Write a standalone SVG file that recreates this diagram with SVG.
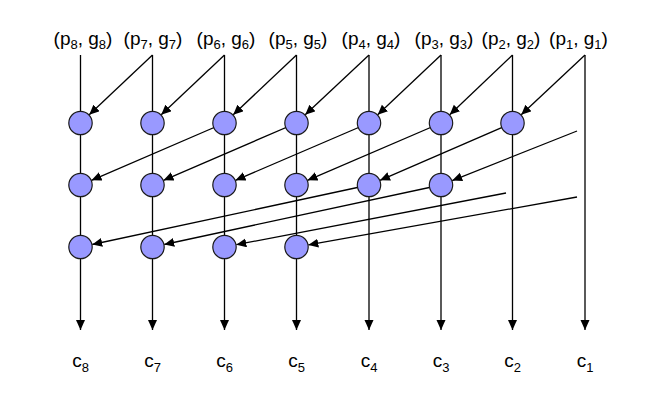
<svg xmlns="http://www.w3.org/2000/svg" width="667" height="408" viewBox="0 0 667 408">
<defs>
<style>
.t{font-family:"Liberation Sans",Arial,sans-serif;font-size:19px;fill:#000;text-anchor:middle}
.s{font-size:13px}
.ln{stroke:#000;stroke-width:1.3;fill:none}
.ar{stroke:#000;stroke-width:1.3;fill:none;marker-end:url(#ah)}
.nd{fill:#9999ff;stroke:#1a1a1a;stroke-width:1.2}
</style>
<marker id="ah" markerUnits="userSpaceOnUse" markerWidth="11" markerHeight="10" refX="10" refY="4.5" orient="auto" viewBox="0 0 11 10">
<path d="M0,0 L10,4.5 L0,9 z" fill="#000"/>
</marker>
</defs>
<rect width="667" height="408" fill="#fff"/>
<g id="labels-top">
<text class="t" x="83" y="45">(p<tspan class="s" dy="4">8</tspan><tspan dy="-4">, g</tspan><tspan class="s" dy="4">8</tspan><tspan dy="-4">)</tspan></text>
<text class="t" x="153" y="45">(p<tspan class="s" dy="4">7</tspan><tspan dy="-4">, g</tspan><tspan class="s" dy="4">7</tspan><tspan dy="-4">)</tspan></text>
<text class="t" x="226" y="45">(p<tspan class="s" dy="4">6</tspan><tspan dy="-4">, g</tspan><tspan class="s" dy="4">6</tspan><tspan dy="-4">)</tspan></text>
<text class="t" x="298" y="45">(p<tspan class="s" dy="4">5</tspan><tspan dy="-4">, g</tspan><tspan class="s" dy="4">5</tspan><tspan dy="-4">)</tspan></text>
<text class="t" x="371" y="45">(p<tspan class="s" dy="4">4</tspan><tspan dy="-4">, g</tspan><tspan class="s" dy="4">4</tspan><tspan dy="-4">)</tspan></text>
<text class="t" x="444" y="45">(p<tspan class="s" dy="4">3</tspan><tspan dy="-4">, g</tspan><tspan class="s" dy="4">3</tspan><tspan dy="-4">)</tspan></text>
<text class="t" x="511" y="45">(p<tspan class="s" dy="4">2</tspan><tspan dy="-4">, g</tspan><tspan class="s" dy="4">2</tspan><tspan dy="-4">)</tspan></text>
<text class="t" x="578.5" y="45">(p<tspan class="s" dy="4">1</tspan><tspan dy="-4">, g</tspan><tspan class="s" dy="4">1</tspan><tspan dy="-4">)</tspan></text>
</g>
<g id="connectors">
<line class="ar" x1="80.5" y1="55" x2="80.5" y2="330"/>
<line class="ar" x1="152.5" y1="55" x2="152.5" y2="330"/>
<line class="ar" x1="224.5" y1="55" x2="224.5" y2="330"/>
<line class="ar" x1="296.5" y1="55" x2="296.5" y2="330"/>
<line class="ar" x1="369" y1="55" x2="369" y2="330"/>
<line class="ar" x1="441" y1="55" x2="441" y2="330"/>
<line class="ar" x1="512.5" y1="55" x2="512.5" y2="330"/>
<line class="ar" x1="585" y1="55" x2="585" y2="330"/>
<line class="ar" x1="152.5" y1="55" x2="89.2" y2="114.8"/>
<line class="ar" x1="224.5" y1="55" x2="161.2" y2="114.8"/>
<line class="ar" x1="296.5" y1="55" x2="233.2" y2="114.8"/>
<line class="ar" x1="369" y1="55" x2="305.2" y2="114.8"/>
<line class="ar" x1="441" y1="55" x2="377.7" y2="114.8"/>
<line class="ar" x1="512.5" y1="55" x2="449.7" y2="114.8"/>
<line class="ar" x1="585" y1="55" x2="521.2" y2="114.8"/>
<line class="ar" x1="224.5" y1="123" x2="91.5" y2="180.3"/>
<line class="ar" x1="296.5" y1="123" x2="163.5" y2="180.3"/>
<line class="ar" x1="369" y1="123" x2="235.5" y2="180.3"/>
<line class="ar" x1="441" y1="123" x2="307.5" y2="180.3"/>
<line class="ar" x1="512.5" y1="123" x2="380" y2="180.3"/>
<line class="ar" x1="577" y1="131" x2="452.2" y2="180.6"/>
<line class="ar" x1="369" y1="185" x2="92.2" y2="244.5"/>
<line class="ar" x1="441" y1="185" x2="164.2" y2="244.5"/>
<line class="ar" x1="506" y1="193" x2="236.3" y2="244.7"/>
<line class="ar" x1="577" y1="197" x2="308.3" y2="244.9"/>
</g>
<g id="n-r1-c8"><circle class="nd" cx="80.5" cy="123" r="11.7"/></g>
<g id="n-r1-c7"><circle class="nd" cx="152.5" cy="123" r="11.7"/></g>
<g id="n-r1-c6"><circle class="nd" cx="224.5" cy="123" r="11.7"/></g>
<g id="n-r1-c5"><circle class="nd" cx="296.5" cy="123" r="11.7"/></g>
<g id="n-r1-c4"><circle class="nd" cx="369" cy="123" r="11.7"/></g>
<g id="n-r1-c3"><circle class="nd" cx="441" cy="123" r="11.7"/></g>
<g id="n-r1-c2"><circle class="nd" cx="512.5" cy="123" r="11.7"/></g>
<g id="n-r2-c8"><circle class="nd" cx="80.5" cy="185" r="11.7"/></g>
<g id="n-r2-c7"><circle class="nd" cx="152.5" cy="185" r="11.7"/></g>
<g id="n-r2-c6"><circle class="nd" cx="224.5" cy="185" r="11.7"/></g>
<g id="n-r2-c5"><circle class="nd" cx="296.5" cy="185" r="11.7"/></g>
<g id="n-r2-c4"><circle class="nd" cx="369" cy="185" r="11.7"/></g>
<g id="n-r2-c3"><circle class="nd" cx="441" cy="185" r="11.7"/></g>
<g id="n-r3-c8"><circle class="nd" cx="80.5" cy="247" r="11.7"/></g>
<g id="n-r3-c7"><circle class="nd" cx="152.5" cy="247" r="11.7"/></g>
<g id="n-r3-c6"><circle class="nd" cx="224.5" cy="247" r="11.7"/></g>
<g id="n-r3-c5"><circle class="nd" cx="296.5" cy="247" r="11.7"/></g>
<g id="labels-bottom">
<text class="t" x="80.5" y="367">c<tspan class="s" dy="5">8</tspan></text>
<text class="t" x="152.5" y="367">c<tspan class="s" dy="5">7</tspan></text>
<text class="t" x="224.5" y="367">c<tspan class="s" dy="5">6</tspan></text>
<text class="t" x="296.5" y="367">c<tspan class="s" dy="5">5</tspan></text>
<text class="t" x="369" y="367">c<tspan class="s" dy="5">4</tspan></text>
<text class="t" x="441" y="367">c<tspan class="s" dy="5">3</tspan></text>
<text class="t" x="512.5" y="367">c<tspan class="s" dy="5">2</tspan></text>
<text class="t" x="585" y="367">c<tspan class="s" dy="5">1</tspan></text>
</g>
</svg>
